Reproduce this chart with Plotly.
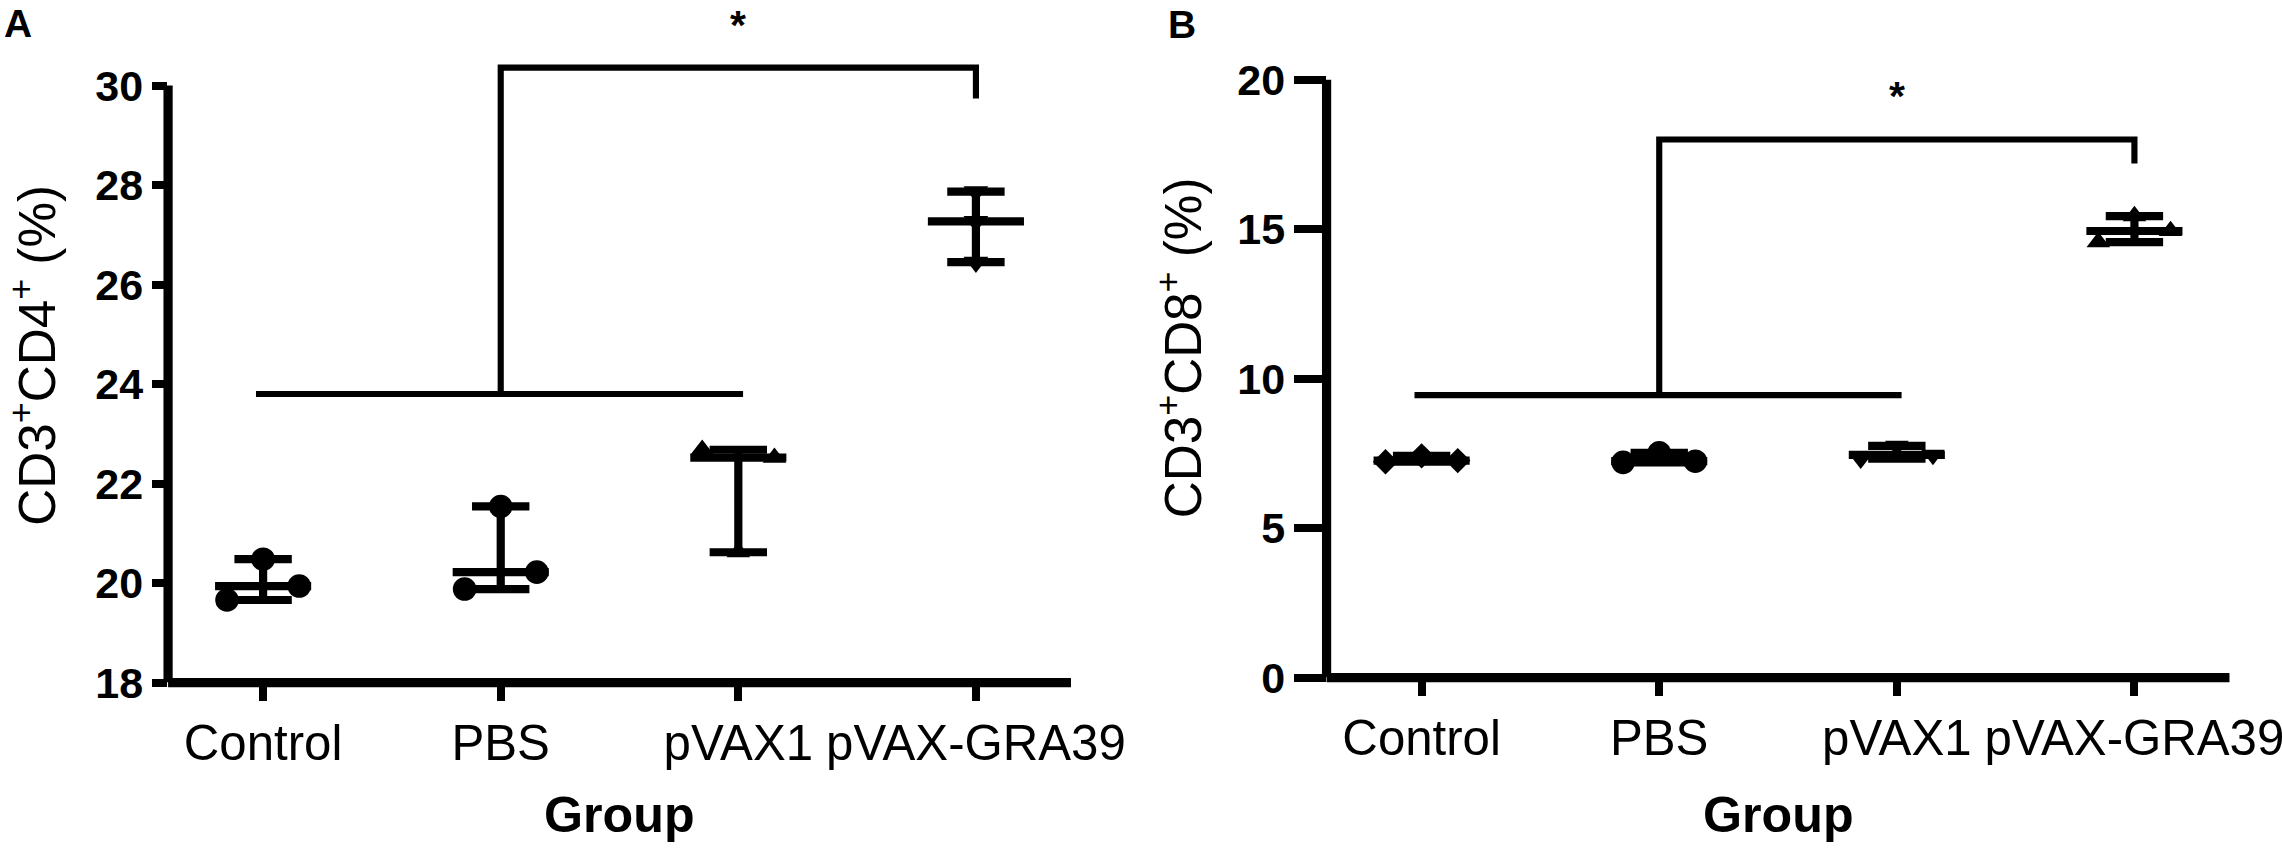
import plotly.graph_objects as go

# ---------------- data ----------------
groups = ["Control", "PBS", "pVAX1", "pVAX-GRA39"]

cd4_control = [19.66, 19.94, 20.48]
cd4_pbs = [19.88, 20.22, 21.54]
cd4_pvax1 = [22.68, 22.52, 20.62]
cd4_gra39 = [27.87, 27.27, 26.45]

cd8_control = [7.22, 7.26, 7.42]
cd8_pbs = [7.2, 7.24, 7.52]
cd8_pvax1 = [7.32, 7.45, 7.75]
cd8_gra39 = [14.57, 14.94, 15.44]

yticks_a = [18, 20, 22, 24, 26, 28, 30]
yticks_b = [0, 5, 10, 15, 20]

# significance brackets (y levels in data units)
sig_a = {"low": 23.8, "high": 30.36, "drop": 29.74}
sig_b = {"low": 9.45, "high": 18.0, "drop": 17.2, "star": 19.45}

# ---------------- style / page geometry ----------------
PW, PH = 2282.0, 850.0      # picture size; layout is given as fractions of it
K = 1.0246                  # css px per picture px
FONT = "Liberation Sans"
STEP_OFF = 0.152
LW_ERR = 8 * K
LW_SIG = 6 * K
LW_AXIS = 9 * K


def fx(px):
    return px / PW


def fy(py):
    return 1 - py / PH


fig = go.Figure()


def median(v):
    return sorted(v)[1]


def add_group(xi, vals, symbol, offs, size, xa, ya):
    med = median(vals)
    fig.add_trace(go.Scatter(
        x=[xi], y=[med], mode="markers", xaxis=xa, yaxis=ya, showlegend=False,
        marker=dict(symbol="line-ew", size=67 * K, color="black",
                    line=dict(width=LW_ERR, color="black")),
        error_y=dict(type="data", symmetric=False, array=[max(vals) - med],
                     arrayminus=[med - min(vals)], width=28 * K,
                     thickness=LW_ERR, color="black"),
        hoverinfo="skip"))
    fig.add_trace(go.Scatter(
        x=[xi + o * STEP_OFF for o in offs], y=vals, mode="markers",
        xaxis=xa, yaxis=ya, showlegend=False,
        marker=dict(symbol=symbol, size=size * K, color="black",
                    line=dict(width=0))))


# Panel A
add_group(0, cd4_control, "circle", [-1, 1, 0], 23, "x", "y")
add_group(1, cd4_pbs, "circle", [-1, 1, 0], 23, "x", "y")
add_group(2, cd4_pvax1, "triangle-up", [-1, 1, 0], 20, "x", "y")
add_group(3, cd4_gra39, "triangle-down", [0, 0, 0], 21, "x", "y")

# Panel B
add_group(0, cd8_control, "diamond", [-1, 1, 0], 19, "x2", "y2")
add_group(1, cd8_pbs, "circle", [-1, 1, 0], 23, "x2", "y2")
add_group(2, cd8_pvax1, "triangle-down", [-1, 1, 0], 20, "x2", "y2")
add_group(3, cd8_gra39, "triangle-up", [-1, 1, 0], 20, "x2", "y2")


def add_bracket(s, xa, ya):
    fig.add_trace(go.Scatter(x=[-0.03, 2.02], y=[s["low"], s["low"]], mode="lines",
                             xaxis=xa, yaxis=ya, showlegend=False,
                             line=dict(color="black", width=LW_SIG)))
    fig.add_trace(go.Scatter(x=[1, 1, 3, 3],
                             y=[s["low"], s["high"], s["high"], s["drop"]],
                             mode="lines", xaxis=xa, yaxis=ya, showlegend=False,
                             line=dict(color="black", width=LW_SIG)))


add_bracket(sig_a, "x", "y")
add_bracket(sig_b, "x2", "y2")

# ---------------- axes ----------------
step = 237.5
xa_left = 168
xb_left = 1326
xspan = 3.8 * step

ya_bottom, ya_top = 685, 1       # picture rows for 18 and 31.7
yb_bottom, yb_top = 680, 50      # picture rows for 0 and 21
ya_range = [18, 31.7]
yb_range = [0, 21]

xcommon = dict(range=[-0.4, 3.4], tickvals=[0, 1, 2, 3], ticktext=groups,
               ticks="outside", ticklen=17 * K, tickwidth=LW_ERR, tickcolor="black",
               showline=False, showgrid=False, zeroline=False,
               ticklabeloverflow="allow",
               tickfont=dict(family=FONT, size=48 * K, color="black"))
ycommon = dict(ticks="outside", tickwidth=LW_ERR, tickcolor="black",
               showline=False, showgrid=False, zeroline=False,
               tickfont=dict(family=FONT, size=42 * K, color="black", weight="bold"))

fig.update_layout(
    width=round(PW * K), height=round(PH * K), autosize=False,
    margin=dict(l=0, r=0, t=0, b=0, pad=0),
    paper_bgcolor="white", plot_bgcolor="white",
    showlegend=False,
    xaxis=dict(domain=[fx(xa_left), fx(xa_left + xspan)], anchor="y", **xcommon),
    yaxis=dict(domain=[fy(ya_bottom), fy(ya_top)], anchor="x",
               range=ya_range, tickvals=yticks_a, ticklen=15 * K, **ycommon),
    xaxis2=dict(domain=[fx(xb_left), fx(xb_left + xspan)], anchor="y2", **xcommon),
    yaxis2=dict(domain=[fy(yb_bottom), fy(yb_top)], anchor="x2",
                range=yb_range, tickvals=yticks_b, ticklen=31 * K, **ycommon),
)

# axis lines (y line stops at top tick)
for xr, yr, ytop, ybot in [("x", "y", yticks_a[-1], yticks_a[0]),
                           ("x2", "y2", yticks_b[-1], yticks_b[0])]:
    fig.add_shape(type="line", xref=xr + " domain", x0=0, x1=0, yref=yr,
                  y0=ybot, y1=ytop, line=dict(color="black", width=LW_AXIS))
    fig.add_shape(type="line", xref=xr + " domain", x0=0, x1=1,
                  yref=yr + " domain", y0=0, y1=0,
                  line=dict(color="black", width=LW_AXIS))

# ---------------- text ----------------
ann = []
ann.append(dict(text="<b>A</b>", xref="paper", yref="paper", x=fx(2), y=fy(0),
                xanchor="left", yanchor="top", showarrow=False,
                font=dict(family=FONT, size=38 * K, color="black")))
ann.append(dict(text="<b>B</b>", xref="paper", yref="paper", x=fx(1165), y=fy(1),
                xanchor="left", yanchor="top", showarrow=False,
                font=dict(family=FONT, size=38 * K, color="black")))
ann.append(dict(text="CD3<sup>+</sup>CD4<sup>+</sup> (%)", xref="paper", yref="paper",
                x=fx(34), y=fy(357), textangle=-90, showarrow=False,
                xanchor="center", yanchor="middle",
                font=dict(family=FONT, size=50 * K, color="black")))
ann.append(dict(text="CD3<sup>+</sup>CD8<sup>+</sup> (%)", xref="paper", yref="paper",
                x=fx(1180), y=fy(349), textangle=-90, showarrow=False,
                xanchor="center", yanchor="middle",
                font=dict(family=FONT, size=50 * K, color="black")))
for xr in ["x", "x2"]:
    ann.append(dict(text="<b>Group</b>", xref=xr + " domain", yref="paper", x=0.5,
                    y=fy(818), showarrow=False, xanchor="center", yanchor="middle",
                    font=dict(family=FONT, size=49 * K, color="black")))
# star of panel A sits at the very top of the picture
ann.append(dict(text="<b>*</b>", xref="x", yref="paper", x=2, y=1,
                xanchor="center", yanchor="top", showarrow=False,
                font=dict(family=FONT, size=40 * K, color="black")))
ann.append(dict(text="<b>*</b>", xref="x2", yref="y2", x=2, y=sig_b["star"],
                showarrow=False, font=dict(family=FONT, size=40 * K, color="black")))
fig.update_layout(annotations=ann)

fig.write_html("out.html",
               config={"displayModeBar": False},
               post_script="document.body.style.margin='0';")
